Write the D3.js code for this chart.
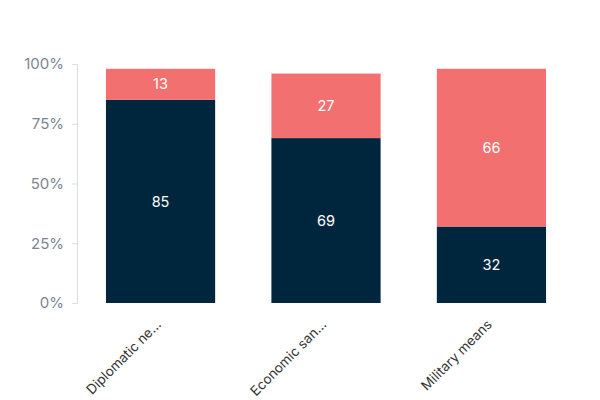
<!DOCTYPE html>
<html>
<head>
<meta charset="utf-8">
<script src="https://cdn.jsdelivr.net/npm/d3@7"></script>
<style>
  body { margin: 0; background: #fff; }
  text { font-family: Inter, "Noto Sans", sans-serif; }
</style>
</head>
<body>
<svg></svg>
<script>
const size = { w: 600, h: 400 };
const margin = { t: 64, r: 25, b: 97, l: 77 };

// data
const categories = ["Diplomatic ne\u2026", "Economic san\u2026", "Military means"];
const seriesNames = ["yes", "no"];
const yesValues = [85, 69, 32];
const noValues = [13, 27, 66];
const yTicks = [0, 25, 50, 75, 100];
const colors = ["#00263e", "#f27070"];

const svg = d3.select("svg").attr("width", size.w).attr("height", size.h);

const rows = categories.map((c, i) => ({ cat: c, yes: yesValues[i], no: noValues[i] }));
const stacked = d3.stack().keys(seriesNames)(rows);

const x = d3.scaleBand()
	.domain(categories)
	.range([margin.l, size.w - margin.r])
	.paddingInner(0.34)
	.paddingOuter(0.175);

const y = d3.scaleLinear()
	.domain([0, 100])
	.range([size.h - margin.b, margin.t]);

// y axis
const yAxis = svg.append("g")
	.attr("transform", `translate(${margin.l},0)`)
	.call(d3.axisLeft(y).tickValues(yTicks).tickSize(5).tickPadding(8).tickFormat((d) => d + "%"));
yAxis.select(".domain").attr("stroke", "#d8dee5");
yAxis.selectAll(".tick line").attr("stroke", "#d8dee5");
yAxis.selectAll(".tick text")
	.attr("fill", "#7b8593")
	.style("font-size", "15px");

// bars
const layers = svg.append("g").selectAll("g")
	.data(stacked)
	.join("g")
	.attr("fill", (d, i) => colors[i]);

layers.selectAll("rect")
	.data((d) => d)
	.join("rect")
	.attr("x", (d) => x(d.data.cat))
	.attr("width", x.bandwidth())
	.attr("y", (d) => y(d[1]))
	.attr("height", (d) => y(d[0]) - y(d[1]));

// value labels
layers.selectAll("text")
	.data((d) => d)
	.join("text")
	.attr("x", (d) => x(d.data.cat) + x.bandwidth() / 2)
	.attr("y", (d) => (y(d[0]) + y(d[1])) / 2)
	.attr("dy", "0.35em")
	.attr("text-anchor", "middle")
	.attr("fill", "#fff")
	.style("font-size", "14.5px")
	.text((d) => d[1] - d[0]);

// category labels
svg.append("g").selectAll("text")
	.data(categories)
	.join("text")
	.attr("transform", (d) => `translate(${x(d) + x.bandwidth() / 2 - 2},${size.h - margin.b + 19}) rotate(-45)`)
	.attr("text-anchor", "end")
	.attr("dy", "0.35em")
	.attr("fill", "#333")
	.style("font-size", "13.5px")
	.text((d) => d);
</script>
</body>
</html>
